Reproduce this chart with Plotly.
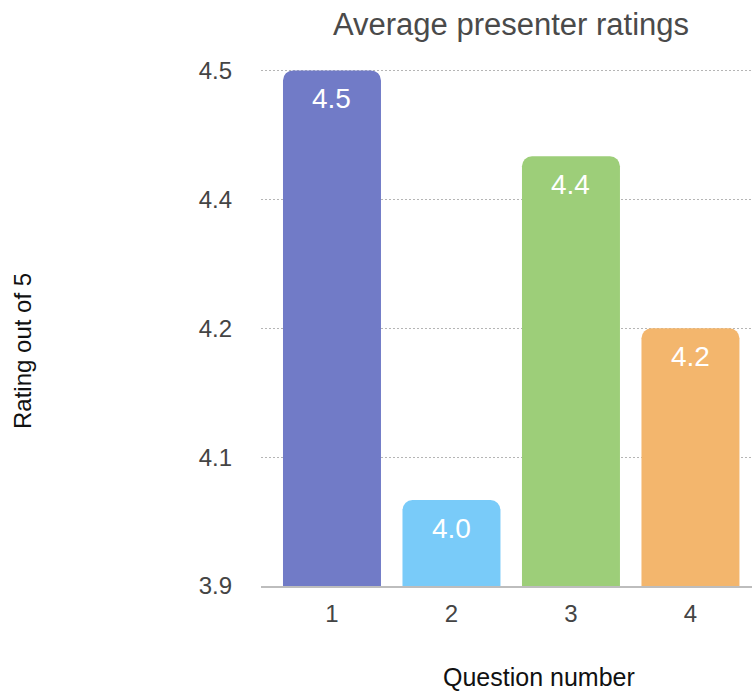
import plotly.graph_objects as go

questions = [1, 2, 3, 4]
ratings = [4.5, 4.0, 4.4, 4.2]
bar_labels = ["4.5", "4.0", "4.4", "4.2"]
colors = ["#717BC7", "#79CBF9", "#9DCE79", "#F3B66D"]
y_tickvals = [3.9, 4.05, 4.2, 4.35, 4.5]
y_ticktext = ["3.9", "4.1", "4.2", "4.4", "4.5"]

FONT = "Liberation Sans"
W, H = 752, 692
ml, mr, mt, mb = 261, 0, 67, 106

fig = go.Figure()
fig.add_trace(go.Bar(
    x=questions, y=ratings, width=0.82,
    marker=dict(color=colors, line=dict(width=0)),
    hoverinfo="skip",
))

annotations = []
for q, v, t in zip(questions, ratings, bar_labels):
    annotations.append(dict(
        x=q, y=v, xref="x", yref="y", text=t, showarrow=False,
        yanchor="middle", yshift=-28,
        font=dict(family=FONT, size=28, color="white"),
    ))

pw, ph = W - ml - mr, H - mt - mb
annotations.append(dict(
    x=(22 - ml) / pw, y=(H - mb - 351) / ph, xref="paper", yref="paper",
    text="Rating out of 5", textangle=-90, showarrow=False,
    xanchor="center", yanchor="middle",
    font=dict(family=FONT, size=24, color="#111"),
))
annotations.append(dict(
    x=(539 - ml) / pw, y=(H - mb - 677) / ph, xref="paper", yref="paper",
    text="Question number", showarrow=False,
    xanchor="center", yanchor="middle",
    font=dict(family=FONT, size=25, color="#111"),
))

fig.update_layout(
    width=W, height=H,
    margin=dict(l=ml, r=mr, t=mt, b=mb, pad=0),
    paper_bgcolor="white", plot_bgcolor="white",
    barcornerradius=10,
    showlegend=False,
    title=dict(text="Average presenter ratings", x=511 / W, xref="container",
               xanchor="center", y=1 - 24 / H, yref="container", yanchor="middle",
               font=dict(family=FONT, size=31, color="#4a4a4a")),
    annotations=annotations,
    xaxis=dict(
        range=[0.406, 4.515], tickvals=questions, ticktext=[str(q) for q in questions],
        showgrid=False, zeroline=False, showline=True, linecolor="#BDBDBD", linewidth=2,
        ticks="", ticklabelstandoff=5,
        tickfont=dict(family=FONT, size=24, color="#444"),
    ),
    yaxis=dict(
        range=[3.9, 4.504], tickvals=y_tickvals, ticktext=y_ticktext,
        showgrid=True, gridcolor="#B5B5B5", griddash="2px,2px", gridwidth=1,
        zeroline=False, showline=False, ticks="", ticklabelstandoff=28,
        tickfont=dict(family=FONT, size=24, color="#444"),
    ),
)

fig.write_html("out.html")
